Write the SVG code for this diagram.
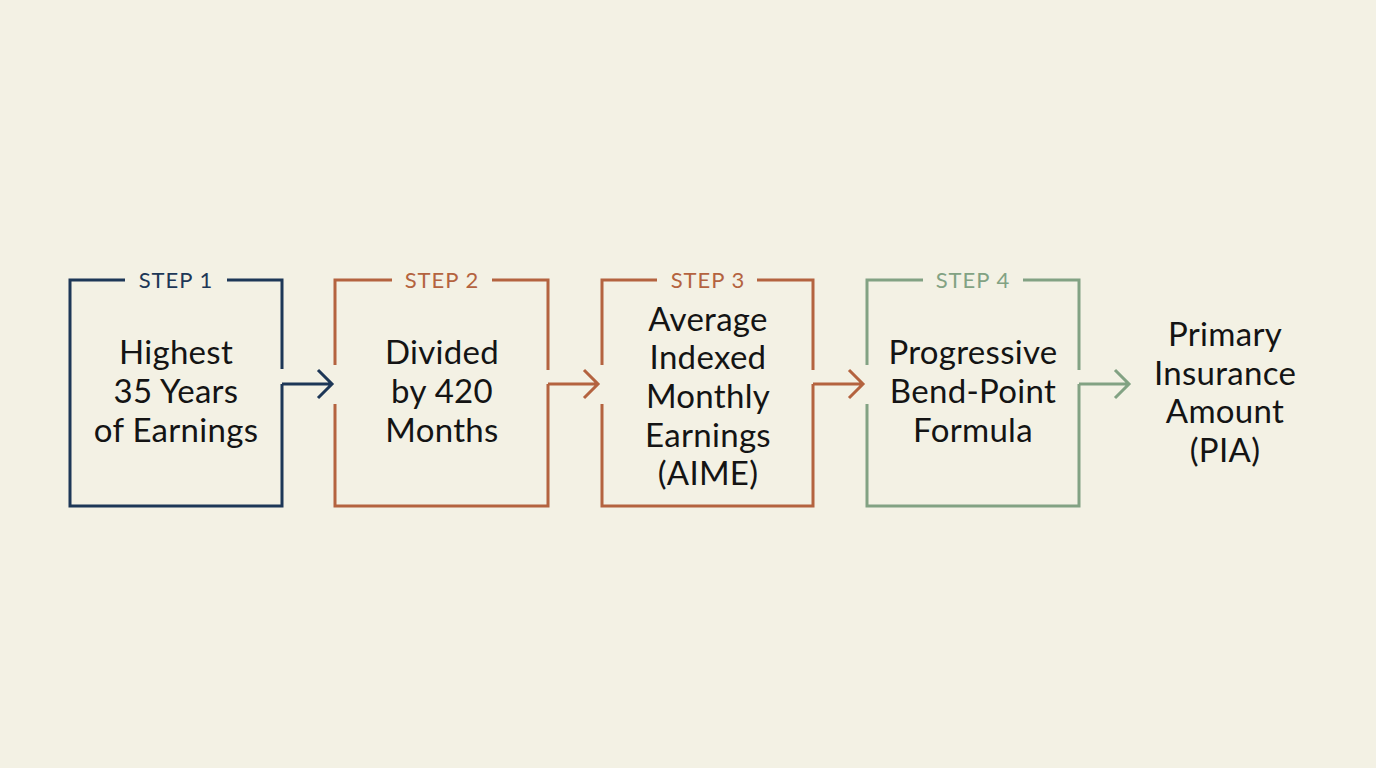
<svg xmlns="http://www.w3.org/2000/svg" width="1376" height="768" viewBox="0 0 1376 768">
<style>
.b{fill:none;stroke-width:3;stroke-linejoin:miter;stroke-linecap:butt}
.n{stroke:#1d3757}.r{stroke:#b4633f}.g{stroke:#82a283}
.t{font-family:Lato,"Noto Sans",sans-serif;font-size:33px;fill:#141414;text-anchor:middle;letter-spacing:0.3px}
.s{font-family:Lato,"Noto Sans",sans-serif;font-size:22px;text-anchor:middle;letter-spacing:1px}
</style>
<rect width="1376" height="768" fill="#f3f1e4"/>
<g id="step1">
<path class="b n" d="M125,280 H70 V506 H282 V384 M282,369 V280 H227"/>
<text class="s" x="176" y="288" fill="#1d3757">STEP 1</text>
<text class="t" x="176" y="364">Highest</text>
<text class="t" x="176" y="403">35 Years</text>
<text class="t" x="176" y="442">of Earnings</text>
</g>
<g id="step2">
<path class="b r" d="M335,365 V280 H392 M492,280 H548 V370 M548,384 V506 H335 V404"/>
<text class="s" x="442" y="288" fill="#b4633f">STEP 2</text>
<text class="t" x="442" y="364">Divided</text>
<text class="t" x="442" y="403">by 420</text>
<text class="t" x="442" y="442">Months</text>
</g>
<g id="step3">
<path class="b r" d="M602,365 V280 H657 M757,280 H813 V370 M813,384 V506 H602 V404"/>
<text class="s" x="708" y="288" fill="#b4633f">STEP 3</text>
<text class="t" x="708" y="331">Average</text>
<text class="t" x="708" y="369">Indexed</text>
<text class="t" x="708" y="408">Monthly</text>
<text class="t" x="708" y="447">Earnings</text>
<text class="t" x="708" y="485">(AIME)</text>
</g>
<g id="step4">
<path class="b g" d="M867,365 V280 H923 M1023,280 H1079 V370 M1079,384 V506 H867 V404"/>
<text class="s" x="973" y="288" fill="#82a283">STEP 4</text>
<text class="t" x="973" y="364">Progressive</text>
<text class="t" x="973" y="403">Bend-Point</text>
<text class="t" x="973" y="442">Formula</text>
</g>
<g id="pia">
<text class="t" x="1225" y="346">Primary</text>
<text class="t" x="1225" y="385">Insurance</text>
<text class="t" x="1225" y="423">Amount</text>
<text class="t" x="1225" y="462">(PIA)</text>
</g>
<g id="connectors">
<path class="b n" d="M282,384 H331 M318,370 L332,384 L318,398"/>
<path class="b r" d="M548,384 H597 M584,370 L598,384 L584,398"/>
<path class="b r" d="M813,384 H862 M849,370 L863,384 L849,398"/>
<path class="b g" d="M1079,384 H1128 M1115,370 L1129,384 L1115,398"/>
</g>
</svg>
